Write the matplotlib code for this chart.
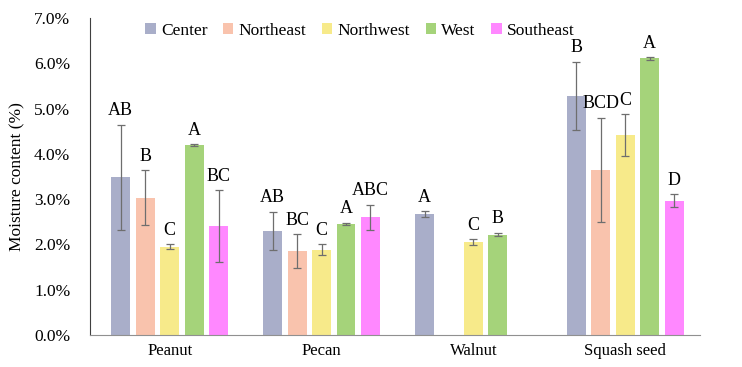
import numpy as np
import matplotlib.pyplot as plt

plt.rcParams['font.family'] = ['Liberation Serif', 'DejaVu Serif']

crops = ['Peanut', 'Pecan', 'Walnut', 'Squash seed']
regions = ['Center', 'Northeast', 'Northwest', 'West', 'Southeast']
colors = ['#a9aec9', '#f9c3ad', '#f7ea8a', '#a5d37a', '#ff88ff']

# moisture content (%) per region, order of crops
center = [3.48, 2.30, 2.67, 5.28]
northeast = [3.03, 1.86, np.nan, 3.65]
northwest = [1.95, 1.88, 2.05, 4.41]
west = [4.19, 2.45, 2.22, 6.11]
southeast = [2.41, 2.60, np.nan, 2.97]

center_sd = [1.16, 0.42, 0.07, 0.75]
northeast_sd = [0.61, 0.37, np.nan, 1.15]
northwest_sd = [0.06, 0.12, 0.06, 0.46]
west_sd = [0.02, 0.03, 0.04, 0.03]
southeast_sd = [0.79, 0.28, np.nan, 0.14]

center_lab = ['AB', 'AB', 'A', 'B']
northeast_lab = ['B', 'BC', '', 'BCD']
northwest_lab = ['C', 'C', 'C', 'C']
west_lab = ['A', 'A', 'B', 'A']
southeast_lab = ['BC', 'ABC', '', 'D']

vals = [center, northeast, northwest, west, southeast]
sds = [center_sd, northeast_sd, northwest_sd, west_sd, southeast_sd]
labs = [center_lab, northeast_lab, northwest_lab, west_lab, southeast_lab]

fig = plt.figure(figsize=(7.42, 3.67), dpi=100)
ax = fig.add_axes([0.121, 0.087, 0.822, 0.864])

x = np.arange(len(crops))
w = 0.125
step = 0.161
for i in range(len(regions)):
    pos = x + (i - 2) * step
    v = np.array(vals[i])
    s = np.array(sds[i])
    ax.bar(pos, v, width=w, color=colors[i], label=regions[i], zorder=2)
    ax.errorbar(pos, v, yerr=s, fmt='none', ecolor='#6e6e6e', elinewidth=0.9,
                capsize=3, capthick=0.9, zorder=3)
    for k in range(len(crops)):
        if labs[i][k] and not np.isnan(v[k]):
            ax.text(pos[k], v[k] + s[k] + 0.12, labs[i][k], ha='center', va='bottom',
                    fontsize=13)

ax.set_xlim(-0.526, 3.49)
ax.set_ylim(0, 7)
ax.set_yticks(np.arange(0, 7.01, 1))
ax.set_yticklabels(['%.1f%%' % t for t in np.arange(0, 7.01, 1)], fontsize=12.5)
ax.set_xticks(x)
ax.set_xticklabels(crops, fontsize=12)
ax.tick_params(axis='x', length=0, pad=6)
ax.tick_params(axis='y', length=0, pad=14)
ax.set_ylabel('Moisture content (%)', fontsize=12.5, labelpad=6)

ax.spines['top'].set_visible(False)
ax.spines['right'].set_visible(False)
ax.spines['left'].set_color('#404040')
ax.spines['bottom'].set_color('#909090')

ax.legend(loc='upper center', bbox_to_anchor=(0.443, 1.035), ncol=5, frameon=False,
          fontsize=12.5, handlelength=0.6, handleheight=0.6, handletextpad=0.3,
          columnspacing=0.9)

fig.savefig('out.png', dpi=100)
